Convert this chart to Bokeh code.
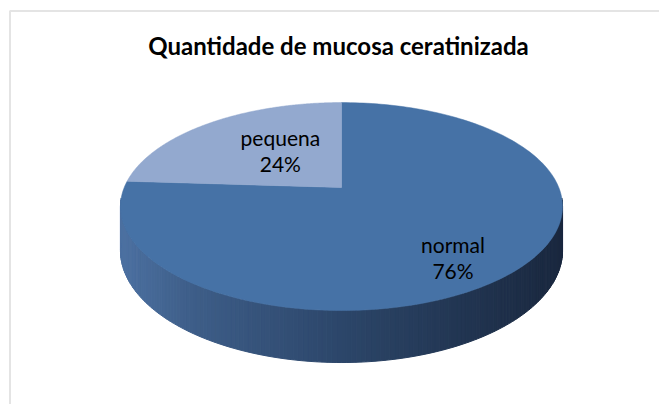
import numpy as np
from bokeh.plotting import figure
from bokeh.models import Range1d, BoxAnnotation
from bokeh.core.properties import value
from bokeh.embed import file_html
from bokeh.resources import INLINE

# ---- data ----
title_text = "Quantidade de mucosa ceratinizada"
categories = ["normal", "pequena"]
counts = [76, 24]

# ---- styles ----
slice_colors = ["#4672a6", "#93a9cf"]
side_stops = [(0.0, (76, 112, 160)), (0.15, (62, 94, 137)), (0.5, (44, 70, 105)),
              (0.8, (33, 52, 80)), (1.0, (26, 40, 63))]
label_f = [0.72, 0.45]
label_nudge = [(-7, 12), (2, -6)]

# ---- 3D pie projection (screen px) ----
CX, CY = 341.0, 187.0
A, BS = 217.3, 100.5
C = 0.183
H = 42.5


def proj(theta, f=1.0, drop=0.0):
    w = 1 + C * f * np.cos(theta)
    x = CX + A * f * np.sin(theta) / w
    y = CY - BS * f * np.cos(theta) / w + drop / w
    return x, y


W, Hh = 659, 404
p = figure(width=W, height=Hh, x_range=Range1d(0, W), y_range=Range1d(Hh, 0),
           output_backend="svg", toolbar_location=None, x_axis_type=None, y_axis_type=None,
           min_border=0, outline_line_color=None, background_fill_color="white",
           border_fill_color="white")
p.grid.visible = False

# chart border (left and top visible; other sides run off the page)
p.add_layout(BoxAnnotation(left=9.5, top=10.5, right=W + 20, bottom=Hh + 20,
                           fill_alpha=0, line_color="#a6a6a6", line_width=2))

total = float(sum(counts))
fracs = [c / total for c in counts]
starts = np.cumsum([0] + fracs[:-1]) * 2 * np.pi
ends = np.cumsum(fracs) * 2 * np.pi


def grad(t):
    t = min(max(t, 0), 1)
    for (t0, c0), (t1, c1) in zip(side_stops[:-1], side_stops[1:]):
        if t <= t1:
            k = (t - t0) / (t1 - t0)
            return "#%02x%02x%02x" % tuple(int(round(a + (b - a) * k)) for a, b in zip(c0, c1))
    return "#%02x%02x%02x" % side_stops[-1][1]


# side wall (front part) with gradient strips
th_l = np.arccos(-C) - 0.08
th_r = 2 * np.pi - np.arccos(-C) + 0.08
n = 160
ths = np.linspace(th_l, th_r, n + 1)
xr, _ = proj(np.pi / 2)
xl, _ = proj(-np.pi / 2)
xs_s, ys_s, cols = [], [], []
for i in range(n):
    t0, t1 = ths[i], ths[i + 1]
    x0, y0 = proj(t0)
    x1, y1 = proj(t1)
    bx0, by0 = proj(t0, drop=H)
    bx1, by1 = proj(t1, drop=H)
    xs_s.append([x0, x1, bx1, bx0])
    ys_s.append([y0, y1, by1, by0])
    xm = (x0 + x1) / 2
    cols.append(grad((xm - xl) / (xr - xl)))
p.patches(xs_s, ys_s, fill_color=cols, line_color=cols, line_width=1)

# top faces
for s, e, col in zip(starts, ends, slice_colors):
    t = np.linspace(s, e, 200)
    x, y = proj(t)
    xs = np.concatenate([[CX], x, [CX]])
    ys = np.concatenate([[CY], y, [CY]])
    p.patch(xs, ys, fill_color=col, line_color=col, line_width=0.5)

# labels
for cat, fr, s, e, f, (dx, dy) in zip(categories, fracs, starts, ends, label_f, label_nudge):
    mid = (s + e) / 2
    lx, ly = proj(mid, f=f)
    lx, ly = lx + dx, ly + dy
    p.text(x=[lx], y=[ly - 13], text=[cat], text_align="center", text_baseline="middle",
           text_font=value("Lato"), text_font_size="21px", text_color="#000000")
    p.text(x=[lx], y=[ly + 13], text=["%d%%" % round(fr * 100)], text_align="center",
           text_baseline="middle", text_font=value("Lato"), text_font_size="21px",
           text_color="#000000")

# title
p.text(x=[338], y=[45], text=[title_text], text_align="center", text_baseline="middle",
       text_font=value("Lato"), text_font_size="24px", text_font_style="bold",
       text_color="#000000")

open("out.html", "w").write(file_html(p, INLINE))
